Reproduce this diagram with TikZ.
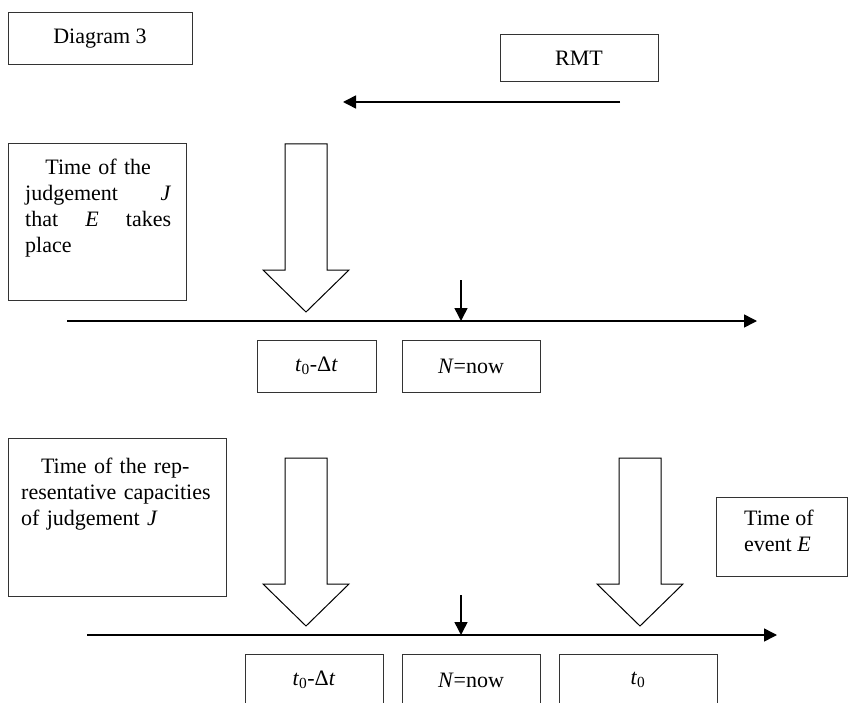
\documentclass[tikz,border=0pt]{standalone}
\usepackage{fontspec}
\setmainfont{Liberation Serif}
\usetikzlibrary{arrows.meta,positioning}

\begin{document}
\begin{tikzpicture}[x=1pt,y=-1pt,>={Triangle[length=13pt,width=13pt]},
box/.style={draw=black!80,line width=1pt,inner sep=0pt,font=\fontsize{22}{26}\selectfont},
txt/.style={inner sep=0pt,align=left,font=\fontsize{22}{26}\selectfont},
tl/.style={->,line width=1.5pt},
hollow/.pic={\draw[line width=1pt,fill=white] (-21,-168)--(-21,-42)--(-43,-42)--(0,0)--(43,-42)--(21,-42)--(21,-168)--cycle;}]
\useasboundingbox (0,0) rectangle (848,703);
\clip (0,0) rectangle (848,703);
% top boxes
\node[box,minimum width=184pt,minimum height=52pt] (diag) at (100,39) {Diagram 3};
\node[box,minimum width=158pt,minimum height=47pt] (rmt) at (579,58.5) {RMT};
\coordinate (r1) at (620,102); \coordinate (r2) at (343,102);
\draw[tl] (r1)--(r2);
% first time line
\node[box,minimum width=178pt,minimum height=157pt,anchor=north west] (jb) at (8,143) {};
\node[txt,text width=146pt,anchor=north west] (jt) at ([xshift=17pt,yshift=-16pt]jb.north west)
 {\hfill Time of the\hfill\mbox{}\\ judgement\hfill\textit{J}\\ that\hfill\textit{E}\hfill takes\\ place};
\coordinate (l1s) at (67,321); \coordinate (l1e) at (757,321);
\draw[tl] (l1s)--(l1e);
\node[box,minimum width=119pt,minimum height=52pt] (t1) at (316.5,366) {\textit{t}\textsubscript{0}-Δ\textit{t}};
\node[box,minimum width=138pt,minimum height=52pt] (n1) at (471,366) {\textit{N}=now};
% second time line
\node[box,minimum width=218pt,minimum height=158pt,anchor=north west] (rb) at (8,438) {};
\node[txt,text width=188pt,anchor=north west] (rt) at ([xshift=13pt,yshift=-20pt]rb.north west)
 {\hfill Time of the rep-\hfill\mbox{}\\ \mbox{resentative capacities}\\ of judgement \textit{J}};
\node[box,minimum width=131pt,minimum height=79pt,anchor=north west] (eb) at (716,497) {};
\node[txt,anchor=north west] (et) at ([xshift=28pt,yshift=-13pt]eb.north west) {Time of\\ event \textit{E}};
\coordinate (l2s) at (87,635); \coordinate (l2e) at (777,635);
\draw[tl] (l2s)--(l2e);
\node[box,minimum width=138pt,minimum height=52pt] (t2) at (314,680) {\textit{t}\textsubscript{0}-Δ\textit{t}};
\node[box,minimum width=138pt,minimum height=52pt] (n2) at (471,680) {\textit{N}=now};
\node[box,minimum width=158pt,minimum height=52pt] (z2) at (638,680) {\textit{t}\textsubscript{0}};
% arrows onto the lines
\foreach \n/\x/\y in {a1/306/312,a2/306/626,a3/640/626}{\pic (\n) at (\x,\y) {hollow};}
\foreach \i/\y in {1/280,2/595}{\coordinate (m\i) at (461,\y); \draw[tl] (m\i)--(m\i |- l\i s);}
\end{tikzpicture}
\end{document}
